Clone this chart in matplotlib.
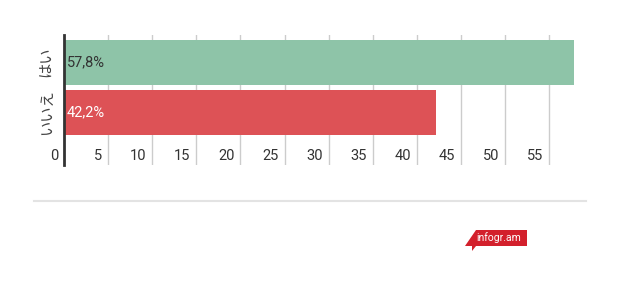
import matplotlib.pyplot as plt
from matplotlib.patches import Polygon
from matplotlib.transforms import blended_transform_factory, ScaledTranslation

# data
categories = ['はい', 'いいえ']
values = [57.8, 42.2]
value_labels = ['57,8%', '42,2%']
bar_colors = ['#8ec4a8', '#dd5256']
label_colors = ['#333333', '#ffffff']
ticks = [0, 5, 10, 15, 20, 25, 30, 35, 40, 45, 50, 55]

plt.rcParams['font.family'] = ['Roboto', 'Noto Sans CJK JP', 'DejaVu Sans']

W, H = 620, 283
fig = plt.figure(figsize=(W / 100, H / 100), dpi=100)
fig.patch.set_facecolor('white')

# axes: x=0 at px 64, 8.82 px per unit; y from px 35 to 165
x0, x1 = 64, 64 + 58.5 * 8.82
ax = fig.add_axes([x0 / W, 1 - 165 / H, (x1 - x0) / W, 130 / H])

ypos = list(range(len(categories)))
ax.barh(ypos, values, height=0.9, color=bar_colors, zorder=2)
ax.set_xlim(0, 58.5)
ax.set_ylim(2.06, -0.54)

# vertical gridlines
for t in ticks[1:]:
    ax.axvline(t, color='#cccccc', lw=1, zorder=1)

for s in ['top', 'right', 'bottom']:
    ax.spines[s].set_visible(False)
ax.spines['left'].set_color('#333333')
ax.spines['left'].set_linewidth(2)
ax.spines['left'].set_zorder(3)

# category labels, rotated
ax.set_xticks([])
ax.set_yticks(ypos)
ax.set_yticklabels(categories, rotation=90, va='center', fontsize=11,
                   color='#444444', family=['Noto Sans CJK JP', 'DejaVu Sans'])
ax.tick_params(axis='y', length=0, pad=6.5)

# x tick labels inside the plot, left of each gridline
trans = blended_transform_factory(ax.transData, ax.transAxes)
off = ScaledTranslation(-6 / 100, 0, fig.dpi_scale_trans)
for t in ticks:
    ax.text(t, 0.07, str(t), transform=trans + off, ha='right', va='center',
            fontsize=10.5, color='#333333')

# value labels inside bars
for y, lab, c in zip(ypos, value_labels, label_colors):
    ax.text(0, y, lab, transform=ax.transData + ScaledTranslation(3 / 100, 0, fig.dpi_scale_trans),
            ha='left', va='center', fontsize=10.5, color=c, zorder=4)

# separator line
fig.add_artist(plt.Line2D([34 / W, 586 / W], [1 - 201 / H, 1 - 201 / H],
                          color='#e3e3e3', lw=1.5))

# infogr.am badge
pts = [(476, 230), (527, 230), (527, 246), (476, 246), (472, 251),
       (472, 246), (465, 246)]
fig.add_artist(Polygon([(x / W, 1 - y / H) for x, y in pts], closed=True,
                       transform=fig.transFigure, facecolor='#d3202c',
                       edgecolor='none'))
fig.text(499 / W, 1 - 238 / H, 'infogr.am', ha='center', va='center',
         fontsize=7.5, color='white', family='Roboto')

fig.savefig('out.png', dpi=100)
